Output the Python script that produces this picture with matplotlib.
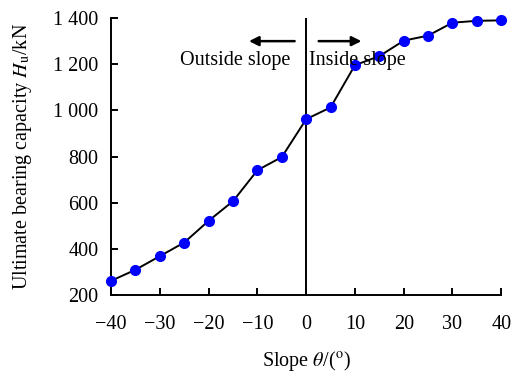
import matplotlib.pyplot as plt
from matplotlib.ticker import FuncFormatter

plt.rcParams["font.family"] = ["Liberation Serif", "DejaVu Serif"]
plt.rcParams["mathtext.fontset"] = "stix"

slope = [-40, -35, -30, -25, -20, -15, -10, -5, 0, 5, 10, 15, 20, 25, 30, 35, 40]
capacity = [262, 310, 369, 428, 522, 607, 741, 798, 962, 1013, 1196, 1235, 1302, 1324, 1380, 1388, 1390]

x_ticks = [-40, -30, -20, -10, 0, 10, 20, 30, 40]
y_ticks = [200, 400, 600, 800, 1000, 1200, 1400]


def thousands(v, pos):
    s = f"{int(v):,}".replace(",", " ")
    return s


def minus(v, pos):
    return f"{int(v)}".replace("-", "\u2212")


fig = plt.figure(figsize=(5.12, 3.76), dpi=100)
ax = fig.add_axes([0.217, 0.215, 0.762, 0.737])

ax.plot(slope, capacity, color="black", linewidth=1.4, marker="o",
        markersize=7, markerfacecolor="blue", markeredgecolor="blue",
        zorder=3, clip_on=False)
ax.axvline(0, color="black", linewidth=1.4, zorder=2)

ax.set_xlim(-40, 40)
ax.set_ylim(200, 1400)
ax.set_xticks(x_ticks)
ax.set_yticks(y_ticks)
ax.xaxis.set_major_formatter(FuncFormatter(minus))
ax.yaxis.set_major_formatter(FuncFormatter(thousands))
ax.tick_params(direction="in", length=5, width=1.4, labelsize=14.5)
ax.tick_params(axis="x", pad=14)
ax.tick_params(axis="y", pad=9)

for side in ["top", "right"]:
    ax.spines[side].set_visible(False)
for side in ["left", "bottom"]:
    ax.spines[side].set_linewidth(1.4)

# direction arrows
ax.annotate("", xy=(-12.3, 1300), xytext=(-1.8, 1300),
            arrowprops=dict(arrowstyle="-|>", color="black", lw=1.8, mutation_scale=14))
ax.annotate("", xy=(11.9, 1300), xytext=(2.0, 1300),
            arrowprops=dict(arrowstyle="-|>", color="black", lw=1.8, mutation_scale=14))
ax.text(-14.6, 1218, "Outside slope", ha="center", va="center", fontsize=14.5)
ax.text(10.5, 1218, "Inside slope", ha="center", va="center", fontsize=14.5)

ax.set_xlabel(r"Slope $\mathit{\theta}$/($^\mathrm{o}$)", fontsize=14.5, labelpad=11)
ax.set_ylabel(r"Ultimate bearing capacity $\mathit{H}_\mathrm{u}$/kN", fontsize=14.5, labelpad=14)

fig.savefig("out.png", dpi=100)
